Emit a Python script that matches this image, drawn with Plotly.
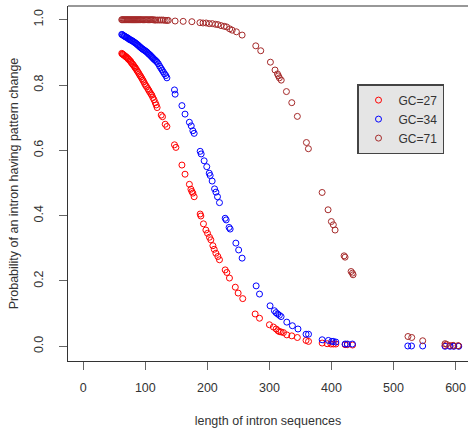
import plotly.graph_objects as go

# ---------------- data ----------------
gc27_x = [62, 63, 64, 65, 66.5, 68, 69, 70.5, 72, 73, 74.5, 76, 77, 78.5, 80, 81.5, 83, 84, 85.5, 87,
          88.5, 90, 91.5, 93, 94.5, 96, 97.5, 99, 100.5, 102, 104, 105.5, 107, 109, 110.5, 112, 114, 116,
          117.5, 119, 125.6, 127.7, 132, 134.8, 147, 149.3, 159, 164, 171, 173.5, 175, 176.6, 178.7,
          188.4, 189.5, 193.7, 197.6, 200.2, 203.4, 205.6, 208.9, 211, 213.7, 216.9, 219.5, 228.7, 231.4,
          235.6, 245, 249.6, 257, 277, 284, 300, 306.4, 310.8, 313.6, 316, 318.8, 322.6, 328, 336, 345,
          359, 363, 385, 393, 399, 403, 407, 422, 425.6, 434, 583, 591, 597, 605]
gc27_y = [0.897, 0.895, 0.894, 0.892, 0.890, 0.888, 0.886, 0.884, 0.881, 0.879, 0.876, 0.873, 0.870,
          0.866, 0.863, 0.859, 0.855, 0.852, 0.848, 0.843, 0.839, 0.834, 0.829, 0.825, 0.820, 0.815,
          0.810, 0.804, 0.799, 0.795, 0.789, 0.784, 0.779, 0.773, 0.769, 0.762, 0.755, 0.746, 0.739,
          0.731, 0.708, 0.703, 0.680, 0.673, 0.617, 0.609, 0.555, 0.527, 0.496, 0.481, 0.474, 0.469,
          0.458, 0.405, 0.399, 0.375, 0.356, 0.346, 0.334, 0.326, 0.308, 0.297, 0.285, 0.275, 0.265,
          0.234, 0.226, 0.209, 0.181, 0.163, 0.146, 0.099, 0.086, 0.066, 0.059, 0.053, 0.048, 0.045,
          0.044, 0.042, 0.035, 0.032, 0.027, 0.018, 0.015, 0.010, 0.008, 0.007, 0.007, 0.007, 0.005,
          0.005, 0.004, 0.002, 0.002, 0.001, 0.001]

gc34_x = [62, 63, 64.5, 66, 67, 68.5, 70, 71.5, 73, 74, 75.5, 77, 78.5, 80, 81.5, 83, 84.5, 86, 87.5,
          89, 90.5, 92, 93.5, 95, 96.5, 98, 99.5, 101, 102.5, 104, 105.5, 107, 108.5, 110, 111.5, 113,
          114.5, 116, 117.5, 119, 121, 123, 125, 127, 129, 131, 133, 134.8, 147, 148, 159, 164, 171,
          174, 176.6, 178.7, 188.4, 190, 194.8, 199, 203, 204.5, 207.7, 211.6, 213.8, 216.3, 219.5,
          228.7, 230.3, 235, 236.7, 245.9, 250.4, 256, 278.6, 284, 301, 308, 310.6, 313.3, 316, 318.8,
          328, 337, 346, 359, 363, 385, 395, 400.5, 403, 407, 422, 425.6, 433.7, 523, 529, 547, 583,
          591, 597, 605]
gc34_y = [0.955, 0.954, 0.952, 0.950, 0.949, 0.947, 0.946, 0.944, 0.942, 0.940, 0.939, 0.937, 0.936,
          0.934, 0.932, 0.930, 0.928, 0.926, 0.923, 0.921, 0.918, 0.916, 0.913, 0.911, 0.909, 0.907,
          0.905, 0.903, 0.901, 0.898, 0.895, 0.893, 0.890, 0.887, 0.884, 0.881, 0.878, 0.876, 0.873,
          0.870, 0.865, 0.858, 0.852, 0.846, 0.840, 0.834, 0.829, 0.822, 0.785, 0.772, 0.737, 0.711,
          0.686, 0.675, 0.660, 0.652, 0.597, 0.589, 0.568, 0.550, 0.530, 0.523, 0.506, 0.482, 0.472,
          0.458, 0.440, 0.392, 0.387, 0.364, 0.359, 0.316, 0.295, 0.270, 0.185, 0.160, 0.124, 0.109,
          0.103, 0.099, 0.095, 0.091, 0.074, 0.063, 0.053, 0.037, 0.037, 0.020, 0.018, 0.015, 0.015,
          0.013, 0.007, 0.007, 0.007, 0.001, 0.001, 0.001, 0.000, 0.000, 0.000, 0.000]

gc71_x = [62, 63, 64.5, 66, 67.5, 69, 70.5, 72, 73.5, 75, 76.5, 78, 79.5, 81, 82.5, 84, 85.5, 87, 88.5,
          90, 91.5, 93, 95, 97, 99, 101, 103, 105, 107, 109, 111, 113, 115, 117, 120, 123, 126, 129,
          132, 135, 137, 148, 161, 175, 188, 193, 198, 203, 208, 213, 217, 222, 227, 231, 236, 240,
          246.8, 256, 278, 286, 301.6, 309, 313, 314.5, 316, 319, 327.4, 336, 345, 359.6, 362.8, 384.9,
          394.5, 399.8, 403, 405.8, 420.3, 421.9, 431.6, 433.7, 434.8, 523.3, 529.3, 547, 583, 585.5,
          596, 604]
gc71_y = [1.000, 1.000, 1.000, 1.000, 1.000, 1.000, 1.000, 1.000, 1.000, 1.000, 1.000, 1.000, 1.000,
          1.000, 1.000, 1.000, 1.000, 1.000, 1.000, 1.000, 1.000, 1.000, 1.000, 1.000, 1.000, 1.000,
          1.000, 1.000, 1.000, 1.000, 1.000, 1.000, 0.999, 0.999, 0.999, 0.999, 0.999, 0.999, 0.998,
          0.998, 0.998, 0.996, 0.995, 0.994, 0.991, 0.990, 0.990, 0.988, 0.988, 0.986, 0.985, 0.982,
          0.980, 0.978, 0.972, 0.968, 0.963, 0.953, 0.920, 0.905, 0.870, 0.846, 0.834, 0.828, 0.822,
          0.815, 0.780, 0.746, 0.704, 0.624, 0.605, 0.471, 0.418, 0.382, 0.372, 0.356, 0.277, 0.273,
          0.229, 0.224, 0.219, 0.030, 0.027, 0.017, 0.008, 0.006, 0.003, 0.002]

series_names = ["GC=27", "GC=34", "GC=71"]
series_colors = ["#FF0000", "#0000FF", "#A52A2A"]

x_ticks = [0, 100, 200, 300, 400, 500, 600]
y_ticks = [0.0, 0.2, 0.4, 0.6, 0.8, 1.0]
y_tick_text = ["0.0", "0.2", "0.4", "0.6", "0.8", "1.0"]

x_title = "length of intron sequences"
y_title = "Probability of an intron having pattern change"

# ---------------- figure ----------------
fig = go.Figure()
for name, xs, ys, col in zip(series_names, [gc27_x, gc34_x, gc71_x], [gc27_y, gc34_y, gc71_y], series_colors):
    fig.add_trace(go.Scatter(
        x=xs, y=ys, mode="markers", name=name,
        marker=dict(symbol="circle-open", size=6, color=col, line=dict(width=1, color=col)),
    ))

axis_font = dict(family="Liberation Sans, Arial, sans-serif", size=12.5, color="#333333")

fig.update_layout(
    width=468, height=430,
    margin=dict(l=68, r=0, t=6, b=69),
    plot_bgcolor="white", paper_bgcolor="white",
    showlegend=True,
    legend=dict(
        x=0.7225, y=0.78, xanchor="left", yanchor="top",
        bgcolor="#E5E5E5", bordercolor="#444444", borderwidth=1.5,
        font=dict(family="Liberation Sans, Arial, sans-serif", size=12, color="#333333"),
        tracegroupgap=0, itemwidth=30,
    ),
    xaxis=dict(
        range=[-24.6, 620], tickvals=x_ticks, ticktext=[str(v) for v in x_ticks],
        automargin=False,
        showgrid=False, zeroline=False, showline=True, linecolor="#333333", linewidth=1.2,
        ticks="outside", ticklen=8, tickcolor="#666666", tickwidth=1.2, ticklabelstandoff=7,
        tickfont=axis_font, title=dict(text=x_title, font=axis_font, standoff=22),
    ),
    yaxis=dict(
        range=[-0.045, 1.042], tickvals=y_ticks, ticktext=y_tick_text, tickangle=-90,
        automargin=False,
        showgrid=False, zeroline=False, showline=True, linecolor="#333333", linewidth=1.2,
        ticks="outside", ticklen=8, tickcolor="#666666", tickwidth=1.2, ticklabelstandoff=11,
        tickfont=axis_font, title=dict(text=y_title, font=axis_font, standoff=10),
    ),
    shapes=[dict(type="line", xref="paper", yref="paper", x0=0, x1=1, y0=1, y1=1,
                 line=dict(color="#333333", width=1.2))],
)

fig.write_html("out.html", config={"displayModeBar": False},
               post_script="document.body.style.margin='0';document.body.style.overflow='hidden';")
